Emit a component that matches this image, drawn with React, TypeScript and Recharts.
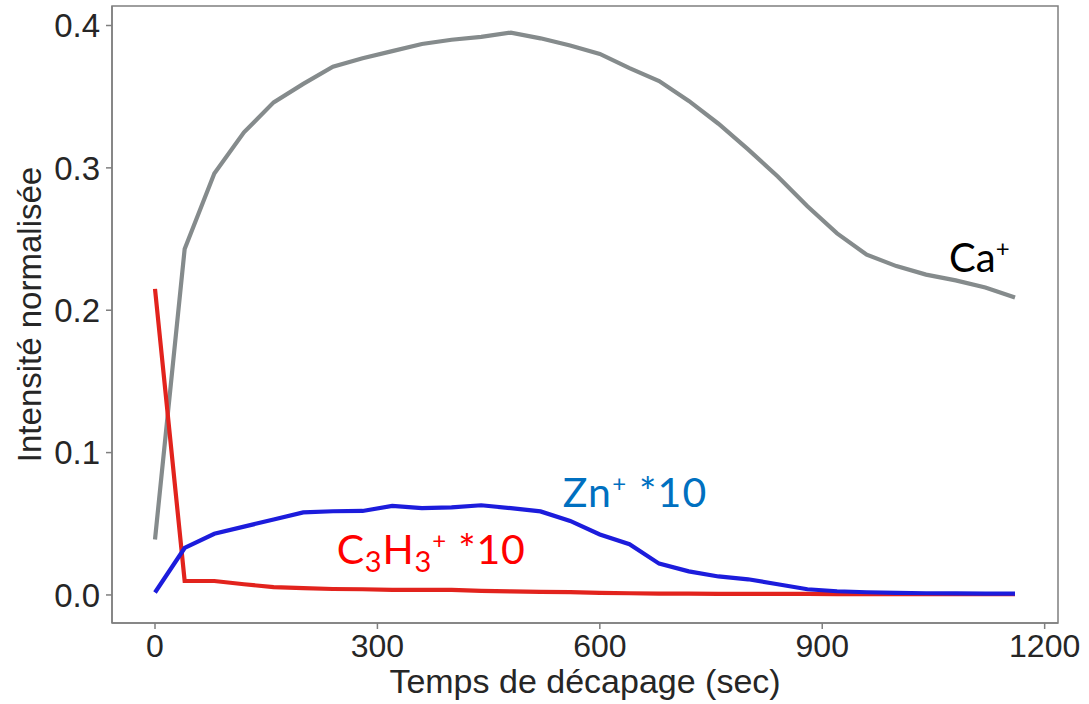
import { LineChart, Line, XAxis, YAxis, ReferenceArea, ReferenceDot } from 'recharts';

// Temps de décapage (sec)
const TIMES = [
  0, 40, 80, 120, 160, 200, 240, 280, 320, 360,
  400, 440, 480, 520, 560, 600, 640, 680, 720, 760,
  800, 840, 880, 920, 960, 1000, 1040, 1080, 1120, 1160,
];

// Ca+
const CA = [
  0.039, 0.243, 0.296, 0.325, 0.346, 0.359, 0.371, 0.377, 0.382, 0.387,
  0.390, 0.392, 0.395, 0.391, 0.386, 0.380, 0.370, 0.361, 0.347, 0.331,
  0.313, 0.294, 0.273, 0.254, 0.239, 0.231, 0.225, 0.221, 0.216, 0.209,
];

// C3H3+ *10
const C3H3 = [
  0.215, 0.0098, 0.0098, 0.0075, 0.0055, 0.0048, 0.0042, 0.004, 0.0035, 0.0035,
  0.0035, 0.0028, 0.0025, 0.0022, 0.002, 0.0015, 0.0012, 0.001, 0.0009, 0.0008,
  0.0008, 0.0007, 0.0007, 0.0006, 0.0006, 0.0005, 0.0005, 0.0005, 0.0005, 0.0005,
];

// Zn+ *10
const ZN = [
  0.0017, 0.033, 0.043, 0.048, 0.053, 0.058, 0.0588, 0.059, 0.0625, 0.061,
  0.0615, 0.063, 0.061, 0.0587, 0.052, 0.0425, 0.0356, 0.022, 0.0166, 0.013,
  0.011, 0.0075, 0.004, 0.0026, 0.0019, 0.0015, 0.0012, 0.0011, 0.001, 0.001,
];

const X_TICKS = [0, 300, 600, 900, 1200];
const Y_TICKS = [0, 0.1, 0.2, 0.3, 0.4];

const X_DOMAIN = [-58, 1218];
const Y_DOMAIN = [-0.0197, 0.4137];

const FRAME = '#7f7f7f';
const TEXT = '#262626';
const AXIS_FONT = '"Liberation Sans", Arial, sans-serif';
const NOTE_FONT = 'Lato, "Open Sans", sans-serif';

const data = TIMES.map((t, i) => ({ t, ca: CA[i], c3h3: C3H3[i], zn: ZN[i] }));

function XTitle(props: any) {
  const { x, y, width, height } = props.viewBox;
  return (
    <text x={x + width / 2} y={y + height - 11} textAnchor="middle"
      fontFamily={AXIS_FONT} fontSize={34} fill={TEXT}>
      Temps de décapage (sec)
    </text>
  );
}

function YTitle(props: any) {
  const { x, y, height } = props.viewBox;
  const cx = x + 29;
  const cy = y + height / 2;
  return (
    <text x={cx} y={cy} textAnchor="middle" dominantBaseline="central"
      transform={`rotate(-90, ${cx}, ${cy})`}
      fontFamily={AXIS_FONT} fontSize={33} fill={TEXT}>
      Intensité normalisée
    </text>
  );
}

function CaNote(props: any) {
  const { x, y } = props.viewBox;
  return (
    <text x={x} y={y} fontFamily={NOTE_FONT} fontSize={40} fill="#000000">
      Ca<tspan dy={-15} fontSize={24}>+</tspan>
    </text>
  );
}

function ZnNote(props: any) {
  const { x, y } = props.viewBox;
  return (
    <text x={x} y={y} fontFamily={NOTE_FONT} fontSize={41} letterSpacing={1.2} fill="#0070c0">
      Zn<tspan dy={-15} fontSize={24}>+</tspan><tspan dy={15} fontSize={41}> *10</tspan>
    </text>
  );
}

function C3H3Note(props: any) {
  const { x, y } = props.viewBox;
  return (
    <text x={x} y={y} fontFamily={NOTE_FONT} fontSize={41} letterSpacing={0.8} fill="#ff0000">
      C<tspan dy={8} fontSize={29}>3</tspan>
      <tspan dy={-8} fontSize={41}>H</tspan>
      <tspan dy={8} fontSize={29}>3</tspan>
      <tspan dy={-23} fontSize={24}>+</tspan>
      <tspan dy={15} fontSize={41}> *10</tspan>
    </text>
  );
}

export default function App() {
  return (
    <div style={{ position: 'absolute', left: 0, top: 0 }}>
      <LineChart width={1089} height={704} data={data}
        margin={{ top: 6, right: 31, bottom: 0, left: 0 }}
        style={{ fontFamily: AXIS_FONT }}>
        <XAxis dataKey="t" type="number" domain={X_DOMAIN} ticks={X_TICKS}
          allowDataOverflow height={81} tickSize={6} tickMargin={5}
          axisLine={{ stroke: FRAME, strokeWidth: 1.5 }}
          tickLine={{ stroke: FRAME, strokeWidth: 1.5 }}
          tick={{ fill: TEXT, fontSize: 32, fontFamily: AXIS_FONT }}
          label={{ content: XTitle }} />
        <YAxis type="number" domain={Y_DOMAIN} ticks={Y_TICKS}
          allowDataOverflow width={112} tickSize={6} tickMargin={6}
          tickFormatter={(v: number) => v.toFixed(1)}
          axisLine={{ stroke: FRAME, strokeWidth: 1.5 }}
          tickLine={{ stroke: FRAME, strokeWidth: 1.5 }}
          tick={{ fill: TEXT, fontSize: 33, fontFamily: AXIS_FONT }}
          label={{ content: YTitle }} />
        <ReferenceArea x1={X_DOMAIN[0]} x2={X_DOMAIN[1]} y1={Y_DOMAIN[0]} y2={Y_DOMAIN[1]}
          fill="none" stroke={FRAME} strokeWidth={1.5} ifOverflow="visible" />
        <Line dataKey="ca" type="linear" stroke="#858b8c" strokeWidth={4.2}
          dot={false} isAnimationActive={false} />
        <Line dataKey="c3h3" type="linear" stroke="#e2231d" strokeWidth={4.2}
          dot={false} isAnimationActive={false} />
        <Line dataKey="zn" type="linear" stroke="#1c1cdc" strokeWidth={4.2}
          dot={false} isAnimationActive={false} />
        <ReferenceDot x={1071} y={0.227} r={0} fill="none" stroke="none" label={{ content: CaNote }} />
        <ReferenceDot x={550} y={0.0616} r={0} fill="none" stroke="none" label={{ content: ZnNote }} />
        <ReferenceDot x={245} y={0.0216} r={0} fill="none" stroke="none" label={{ content: C3H3Note }} />
      </LineChart>
    </div>
  );
}
